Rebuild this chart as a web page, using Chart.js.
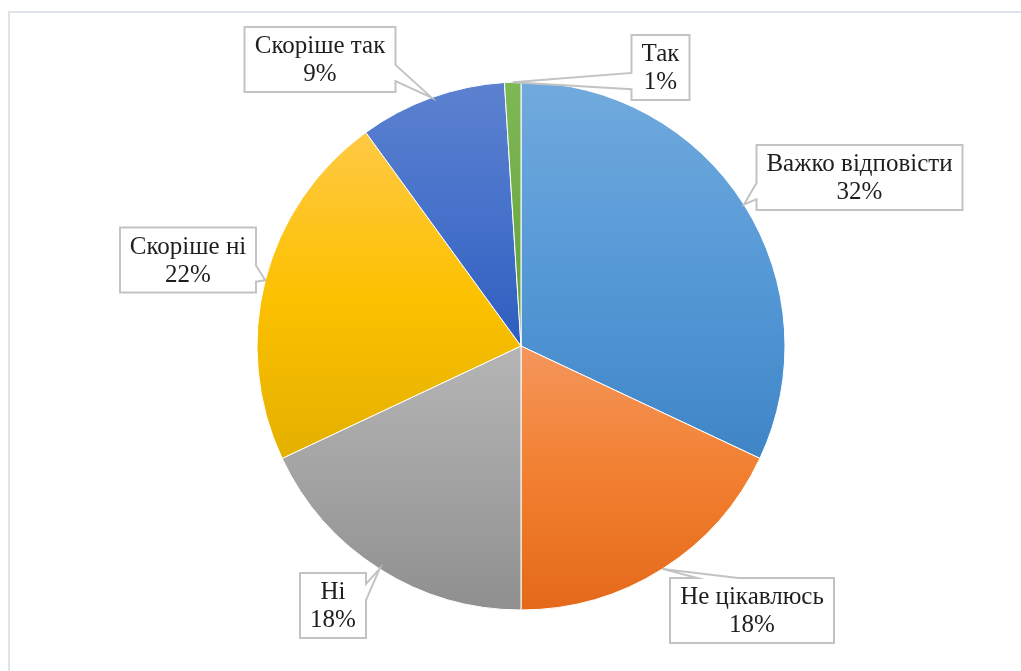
<!DOCTYPE html>
<html lang="uk">
<head>
<meta charset="utf-8">
<title>Розподіл відповідей</title>
<script src="https://cdn.jsdelivr.net/npm/chart.js@4/dist/chart.umd.min.js"></script>
<style>
  html, body { margin: 0; padding: 0; background: #ffffff; }
  body { width: 1021px; height: 671px; position: relative; overflow: hidden; }
  #frame {
    position: absolute; left: 8px; top: 11px; width: 1100px; height: 700px;
    border-left: 2px solid #dfe4ea; border-top: 2px solid #dfe4ea;
    box-sizing: border-box;
  }
  #chart { position: absolute; left: 0; top: 0; }
</style>
</head>
<body>
<div id="frame"></div>
<canvas id="chart" width="1021" height="671"></canvas>
<script>
// Answer categories, clockwise from twelve o'clock
const categories = ['Важко відповісти', 'Не цікавлюсь', 'Ні', 'Скоріше ні', 'Скоріше так', 'Так'];
// Share of respondents, %
const shares = [32, 18, 18, 22, 9, 1];

// Slice fills: light (top) -> mid -> dark (bottom)
const sliceGradients = [
  ['#71aadd', '#5699d7', '#3f85c6'],
  ['#f5965c', '#f17f2f', '#e4691a'],
  ['#b5b5b5', '#a3a3a3', '#8f8f8f'],
  ['#ffc944', '#fcc100', '#e4b000'],
  ['#5c81cf', '#4672cb', '#2f5dbe'],
  ['#7fb857', '#70ad47', '#5f9b39']
];

// Callout box centres (canvas px), one per slice
const calloutCentres = [
  [859.5, 177.5],
  [752, 610.5],
  [333, 605.5],
  [188, 260],
  [320, 59.5],
  [660.5, 67.5]
];

const FONT = '25px "Liberation Serif", "Times New Roman", serif';
const LINE_H = 28;
const BOX_H = 65;
const BOX_PAD = 10;

// vertical gradient spanning one slice's bounding box
function sliceFill(ctx) {
  const chart = ctx.chart;
  const area = chart.chartArea;
  const i = ctx.dataIndex;
  const stops = sliceGradients[i];
  if (!area || i === undefined) return stops[1];
  const cx = (area.left + area.right) / 2;
  const cy = (area.top + area.bottom) / 2;
  const r = Math.min(area.width, area.height) / 2;
  const data = ctx.dataset.data;
  const total = data.reduce((a, b) => a + b, 0);
  let before = 0;
  for (let k = 0; k < i; k++) before += data[k];
  const a0 = -Math.PI / 2 + (before / total) * 2 * Math.PI;
  const a1 = a0 + (data[i] / total) * 2 * Math.PI;
  const ys = [cy, cy + r * Math.sin(a0), cy + r * Math.sin(a1)];
  // include extreme top / bottom points if the slice crosses them
  [-Math.PI / 2, Math.PI / 2, 3 * Math.PI / 2].forEach(a => {
    if (a >= a0 && a <= a1) ys.push(cy + r * Math.sin(a));
  });
  const yTop = Math.min(...ys), yBot = Math.max(...ys);
  const g = chart.ctx.createLinearGradient(0, yTop, 0, yBot + 0.01);
  g.addColorStop(0, stops[0]);
  g.addColorStop(0.5, stops[1]);
  g.addColorStop(1, stops[2]);
  return g;
}

// callout boxes with a wedge pointing at each slice's outer edge
const calloutPlugin = {
  id: 'callouts',
  afterDatasetsDraw(chart) {
    const ctx = chart.ctx;
    const meta = chart.getDatasetMeta(0);
    const data = chart.data.datasets[0].data;
    const total = data.reduce((a, b) => a + b, 0);
    ctx.save();
    ctx.font = FONT;
    meta.data.forEach((arc, i) => {
      const p = arc.getProps(['x', 'y', 'startAngle', 'endAngle', 'outerRadius'], true);
      const mid = (p.startAngle + p.endAngle) / 2;
      const tip = [p.x + Math.cos(mid) * p.outerRadius, p.y + Math.sin(mid) * p.outerRadius];
      const lines = [chart.data.labels[i], Math.round(data[i] / total * 100) + '%'];
      const tw = Math.max(...lines.map(t => ctx.measureText(t).width));
      const w = Math.round(tw + 2 * BOX_PAD);
      const h = BOX_H;
      const [bcx, bcy] = calloutCentres[i];
      const L = bcx - w / 2, R = bcx + w / 2, T = bcy - h / 2, B = bcy + h / 2;
      const dx = tip[0] - bcx, dy = tip[1] - bcy;
      const pts = [];
      const horiz = Math.abs(dx) * h >= Math.abs(dy) * w;
      const yA = dy > 0 ? T + h * 7 / 12 : T + h * 2 / 12;
      const yB = dy > 0 ? T + h * 10 / 12 : T + h * 5 / 12;
      const xA = dx > 0 ? L + w * 7 / 12 : L + w * 2 / 12;
      const xB = dx > 0 ? L + w * 10 / 12 : L + w * 5 / 12;
      pts.push([L, T]);
      if (!horiz && dy < 0) pts.push([xA, T], tip, [xB, T]);
      pts.push([R, T]);
      if (horiz && dx > 0) pts.push([R, yA], tip, [R, yB]);
      pts.push([R, B]);
      if (!horiz && dy > 0) pts.push([xB, B], tip, [xA, B]);
      pts.push([L, B]);
      if (horiz && dx < 0) pts.push([L, yB], tip, [L, yA]);
      ctx.beginPath();
      pts.forEach((q, k) => k ? ctx.lineTo(q[0], q[1]) : ctx.moveTo(q[0], q[1]));
      ctx.closePath();
      ctx.fillStyle = '#ffffff';
      ctx.fill();
      ctx.lineWidth = 2;
      ctx.lineJoin = 'miter';
      ctx.strokeStyle = '#c3c3c3';
      ctx.stroke();
      ctx.fillStyle = '#1e1e1e';
      ctx.textAlign = 'center';
      ctx.textBaseline = 'middle';
      ctx.fillText(lines[0], bcx, bcy - LINE_H / 2 + 1);
      ctx.fillText(lines[1], bcx, bcy + LINE_H / 2 + 1);
    });
    ctx.restore();
  }
};

new Chart(document.getElementById('chart'), {
  type: 'pie',
  data: {
    labels: categories,
    datasets: [{
      data: shares,
      backgroundColor: sliceFill,
      borderColor: '#ffffff',
      borderWidth: 1
    }]
  },
  options: {
    responsive: false,
    animation: false,
    layout: { padding: { top: 81.5, bottom: 60.5, left: 21, right: 0 } },
    plugins: {
      legend: { display: false },
      tooltip: { enabled: false }
    }
  },
  plugins: [calloutPlugin]
});
</script>
</body>
</html>
